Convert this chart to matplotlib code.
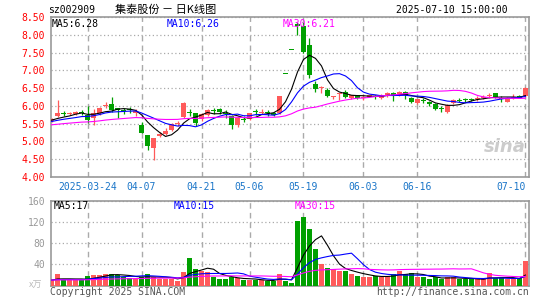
import matplotlib
matplotlib.use('Agg')
import matplotlib.pyplot as plt
import numpy as np
import pandas as pd

plt.rcParams['font.family'] = ['DejaVu Sans Mono', 'Noto Sans CJK SC']

# trading days shown (80 sessions)
holidays = ['2025-04-04', '2025-05-01', '2025-05-02', '2025-05-05', '2025-06-02']
dates = [d.strftime('%Y-%m-%d') for d in pd.bdate_range('2025-03-14', '2025-07-10')
         if d.strftime('%Y-%m-%d') not in holidays]

opens = [5.58, 5.70, 5.80, 5.76, 5.78, 5.82, 5.74, 5.65, 5.79, 6.00,
         6.05, 5.94, 5.90, 5.92, 5.80, 5.46, 5.17, 4.81, 5.15, 5.20,
         5.32, 5.48, 5.68, 5.85, 5.79, 5.62, 5.73, 5.90, 5.92, 5.80,
         5.71, 5.46, 5.64, 5.62, 5.86, 5.82, 5.83, 5.80, 5.81, 6.91,
         7.60, 8.30, 8.25, 7.72, 6.63, 6.52, 6.45, 6.27, 6.35, 6.40,
         6.21, 6.30, 6.24, 6.26, 6.29, 6.25, 6.28, 6.37, 6.30, 6.40,
         6.22, 6.07, 6.18, 6.12, 6.06, 5.94, 5.84, 6.07, 6.18, 6.18,
         6.20, 6.21, 6.24, 6.28, 6.35, 6.24, 6.12, 6.24, 6.27, 6.28]
highs = [5.66, 6.17, 5.85, 5.82, 5.85, 5.88, 6.00, 5.92, 5.98, 6.10,
         6.26, 5.94, 5.94, 5.98, 5.90, 5.55, 5.17, 5.10, 5.25, 5.37,
         5.52, 5.58, 6.10, 5.92, 5.81, 5.80, 5.90, 5.95, 5.94, 5.87,
         5.74, 5.70, 5.71, 5.80, 5.90, 5.90, 5.87, 5.82, 6.28, 6.91,
         7.60, 8.36, 8.36, 7.91, 6.71, 6.55, 6.50, 6.29, 6.37, 6.45,
         6.31, 6.31, 6.30, 6.32, 6.32, 6.33, 6.38, 6.40, 6.41, 6.41,
         6.25, 6.19, 6.21, 6.14, 6.08, 6.00, 6.05, 6.18, 6.21, 6.22,
         6.23, 6.28, 6.30, 6.35, 6.36, 6.28, 6.25, 6.33, 6.30, 6.52]
lows = [5.55, 5.68, 5.70, 5.73, 5.75, 5.74, 5.52, 5.46, 5.75, 5.95,
        5.83, 5.65, 5.78, 5.80, 5.70, 5.22, 4.74, 4.48, 5.12, 5.17,
        5.30, 5.44, 5.66, 5.70, 5.43, 5.58, 5.71, 5.76, 5.77, 5.65,
        5.34, 5.40, 5.55, 5.60, 5.74, 5.77, 5.71, 5.72, 5.78, 6.91,
        7.60, 8.00, 7.48, 6.78, 6.40, 6.37, 6.24, 6.18, 6.16, 6.21,
        6.20, 6.20, 6.16, 6.24, 6.20, 6.18, 6.26, 6.13, 6.28, 6.20,
        6.08, 6.04, 6.07, 6.00, 5.88, 5.83, 5.81, 6.04, 6.11, 6.12,
        6.13, 6.14, 6.20, 6.21, 6.22, 6.11, 6.11, 6.18, 6.22, 6.26]
closes = [5.63, 5.79, 5.79, 5.79, 5.82, 5.80, 5.60, 5.80, 5.95, 6.03,
          5.88, 5.87, 5.88, 5.88, 5.86, 5.24, 4.87, 5.08, 5.20, 5.29,
          5.48, 5.52, 6.07, 5.82, 5.52, 5.78, 5.88, 5.88, 5.83, 5.76,
          5.46, 5.67, 5.62, 5.79, 5.84, 5.84, 5.81, 5.74, 6.28, 6.91,
          7.60, 8.25, 7.51, 6.87, 6.47, 6.54, 6.28, 6.29, 6.37, 6.26,
          6.30, 6.23, 6.27, 6.30, 6.27, 6.27, 6.37, 6.28, 6.40, 6.30,
          6.11, 6.18, 6.16, 6.06, 5.91, 5.92, 6.02, 6.16, 6.16, 6.17,
          6.18, 6.23, 6.26, 6.30, 6.24, 6.22, 6.23, 6.26, 6.25, 6.49]
volumes = [10, 21.6, 10, 10, 10, 10, 18, 20, 19.7, 21.6,
           21.6, 19.7, 16.5, 15, 12.7, 16.5, 21.6, 15.2, 12.7, 12.7,
           12.7, 9, 26, 52.7, 30.5, 28, 26, 16.5, 12.7, 12.7,
           16.5, 14.6, 10, 10, 10, 10, 9, 9, 21.6, 9,
           5, 122.6, 129, 107, 69, 40.6, 33.6, 30.5, 28, 28,
           21.6, 17.8, 16.5, 16.5, 17.8, 16.5, 17.8, 21, 28, 21,
           22.9, 16.5, 15.2, 12.7, 15.2, 11.4, 16.5, 16.5, 11.4, 11.4,
           11.4, 11.4, 13.3, 22.9, 13.3, 13.3, 11.4, 13.3, 13.3, 47]

# sessions before the window, only feed the moving averages
pre_close = [5.30, 5.28, 5.35, 5.40, 5.38, 5.42, 5.45, 5.40, 5.36, 5.38,
             5.44, 5.50, 5.48, 5.45, 5.42, 5.40, 5.46, 5.52, 5.50, 5.47,
             5.45, 5.50, 5.55, 5.58, 5.52, 5.55, 5.60, 5.62, 5.58]
pre_vol = [9, 10, 11, 9, 10, 12, 10, 9, 11, 10,
           10, 12, 11, 9, 10, 11, 10, 9, 12, 10,
           11, 10, 9, 10, 11, 10, 9, 10, 11]

tick_dates = ['2025-03-24', '2025-04-07', '2025-04-21', '2025-05-06',
              '2025-05-19', '2025-06-03', '2025-06-16', '2025-07-10']
tick_labels = ['2025-03-24', '04-07', '04-21', '05-06', '05-19', '06-03', '06-16', '07-10']

RED = '#ff5a5a'
GREEN = '#00a000'
GRID = '#aaaaaa'

o = np.array(opens); h = np.array(highs); l = np.array(lows); c = np.array(closes)
v = np.array(volumes)
x = np.arange(len(dates))
n = len(pre_close)
cs = pd.Series(pre_close + closes)
vs = pd.Series(pre_vol + volumes)
ma = {k: cs.rolling(k).mean().values[n:] for k in (5, 10, 30)}
vma = {k: vs.rolling(k).mean().values[n:] for k in (5, 10, 30)}
tick_idx = [dates.index(d) for d in tick_dates]
col = np.where(c > o, RED, GREEN)

W, H = 545, 300
fig = plt.figure(figsize=(W / 100, H / 100), dpi=100)
L, R = 50.7, 529
ax = fig.add_axes([L / W, 1 - 176.7 / H, (R - L) / W, (176.7 - 17.3) / H])
axv = fig.add_axes([L / W, 1 - 285.5 / H, (R - L) / W, (285.5 - 200.7) / H])

# candles
ax.vlines(x, l, h, color=col, lw=0.9, zorder=3)
body = np.maximum(np.abs(c - o), 0.03)
bottom = np.minimum(o, c) - np.where(np.abs(c - o) < 0.03, 0.015, 0)
ax.bar(x, body, 0.82, bottom=bottom, color=col, linewidth=0, zorder=3)
ax.plot(x, ma[5], color='black', lw=0.8, zorder=4)
ax.plot(x, ma[10], color='#0000ff', lw=0.8, zorder=4)
ax.plot(x, ma[30], color='#ff00ff', lw=0.8, zorder=4)

# volume
axv.bar(x, v, 0.84, color=col, linewidth=0, zorder=3)
axv.plot(x, vma[5], color='black', lw=0.8, zorder=4)
axv.plot(x, vma[10], color='#0000ff', lw=0.8, zorder=4)
axv.plot(x, vma[30], color='#ff00ff', lw=0.8, zorder=4)

for a in (ax, axv):
    a.set_xlim(-0.15, 79.6)
    a.set_xticks(tick_idx)
    a.grid(True, axis='x', ls=(0, (4, 3)), color=GRID, lw=1)
    a.grid(True, axis='y', ls=(0, (1, 2)), color=GRID, lw=0.9)
    a.set_axisbelow(True)
    for s in a.spines.values():
        s.set_color('#999999')
        s.set_linewidth(1.2)
    a.tick_params(length=0)

ax.set_ylim(4.0, 8.5)
ax.set_yticks(np.arange(4.0, 8.51, 0.5))
ax.set_yticklabels(['%.2f' % t for t in np.arange(4.0, 8.51, 0.5)])
ax.tick_params(axis='y', labelcolor='red', labelsize=7, pad=4)
ax.set_xticklabels(tick_labels)
ax.tick_params(axis='x', labelcolor='#1a75c8', labelsize=7, pad=4)
ax.get_xticklabels()[-1].set_horizontalalignment('right')

axv.set_ylim(0, 160)
axv.set_yticks([0, 40, 80, 120, 160])
axv.set_yticklabels(['', '40', '80', '120', '160'])
axv.tick_params(axis='y', labelcolor='#999999', labelsize=7, pad=4)
axv.set_xticklabels([])


def px(xp, yp, s, **kw):
    fig.text(xp / W, 1 - yp / H, s, va='center', **kw)


px(48, 10, 'sz002909', fontsize=7, color='black')
px(115, 10, '集泰股份 － 日K线图', fontsize=8, color='black', family=['Noto Sans CJK SC'])
px(508, 10, '2025-07-10 15:00:00', fontsize=7, color='black', ha='right')
px(52, 24, 'MA5:6.28', fontsize=7, color='black')
px(167, 24, 'MA10:6.26', fontsize=7, color='#0000ff')
px(283, 24, 'MA30:6.21', fontsize=7, color='#ff00ff')
px(54, 206, 'MA5:17', fontsize=7, color='black')
px(174, 206, 'MA10:15', fontsize=7, color='#0000ff')
px(295, 206, 'MA30:15', fontsize=7, color='#ff00ff')
px(29, 285, 'x万', fontsize=6.5, color='#bbbbbb', family=['Noto Sans CJK SC'])
px(50, 292, 'Copyright 2025 SINA.COM', fontsize=7, color='#555555')
px(529, 292, 'http://finance.sina.com.cn', fontsize=7, color='#555555', ha='right')
px(484, 147, 'sina', fontsize=13, color='#cccccc', style='italic', weight='bold',
   family=['DejaVu Sans'])

fig.savefig('out.png', dpi=100)
